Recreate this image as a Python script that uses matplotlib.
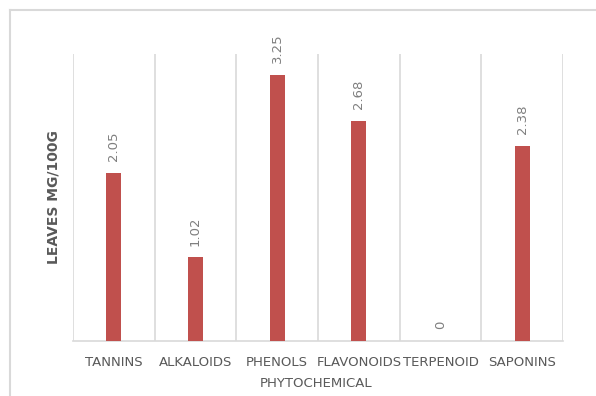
import matplotlib
matplotlib.use("Agg")
import matplotlib.pyplot as plt
from matplotlib.lines import Line2D

categories = ["TANNINS", "ALKALOIDS", "PHENOLS", "FLAVONOIDS", "TERPENOID", "SAPONINS"]
values = [2.05, 1.02, 3.25, 2.68, 0, 2.38]
value_labels = ["2.05", "1.02", "3.25", "2.68", "0", "2.38"]

bar_color = "#C0504D"
grid_color = "#D9D9D9"
text_color = "#595959"
label_color = "#7F7F7F"

fig = plt.figure(figsize=(5.96, 3.96), dpi=100)
ax = fig.add_axes([73 / 596, 1 - 341 / 396, (563 - 73) / 596, (341 - 54) / 396])

x = list(range(len(categories)))
ax.bar(x, values, width=0.18, color=bar_color, zorder=3)

for xi, v, lab in zip(x, values, value_labels):
    ax.annotate(lab, (xi, v), xytext=(0, 8.5), textcoords="offset points",
                rotation=90, ha="center", va="bottom", fontsize=9.5,
                color=label_color)

ax.set_xlim(-0.5, len(categories) - 0.5)
ax.set_ylim(0, 3.5)

# vertical separators between categories
ax.set_xticks([i - 0.5 for i in range(len(categories) + 1)], minor=True)
ax.grid(True, axis="x", which="minor", color=grid_color, linewidth=1.2, zorder=0)
ax.grid(False, axis="x", which="major")
ax.tick_params(axis="x", which="both", length=0)
ax.set_xticks(x)
ax.set_xticklabels(categories, fontsize=9.5, color=text_color)
ax.tick_params(axis="x", which="major", pad=11)
ax.set_yticks([])

for side in ["top", "right", "left"]:
    ax.spines[side].set_visible(False)
ax.spines["bottom"].set_color(grid_color)
ax.spines["bottom"].set_linewidth(1.2)

ax.set_ylabel("LEAVES MG/100G", fontsize=10, fontweight="bold",
              color=text_color)
ax.yaxis.set_label_coords(-0.026, 0.5)
ax.set_xlabel("PHYTOCHEMICAL", fontsize=9.5, color=text_color)
ax.xaxis.set_label_coords(0.496, -0.127)

# chart area frame
fig.add_artist(Line2D([10 / 596, 1.0], [1 - 10 / 396, 1 - 10 / 396],
                      transform=fig.transFigure, color=grid_color, linewidth=1.5))
fig.add_artist(Line2D([10 / 596, 10 / 596], [0.0, 1 - 10 / 396],
                      transform=fig.transFigure, color=grid_color, linewidth=1.5))

fig.savefig("out.png", dpi=100)
